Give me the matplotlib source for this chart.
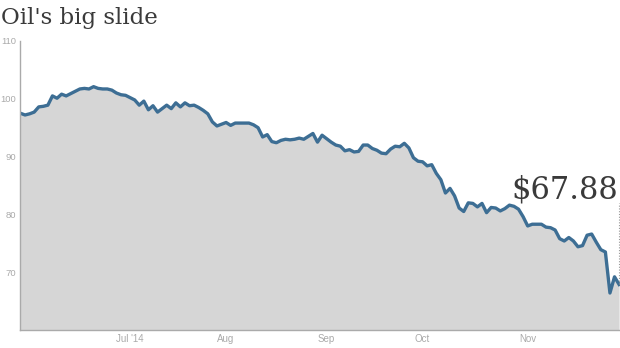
import numpy as np
import matplotlib.pyplot as plt

# daily closing price, one value per trading day (late May - early Dec 2014)
prices = [
    97.5, 97.2, 97.4, 97.7, 98.6, 98.7, 98.9, 100.5, 100.1, 100.8,
    100.5, 100.9, 101.3, 101.7, 101.8, 101.7, 102.1, 101.8, 101.7, 101.7,
    101.5, 101.0, 100.7, 100.6, 100.2, 99.8, 98.9, 99.6, 98.1, 98.8,
    97.7, 98.3, 98.9, 98.3, 99.3, 98.6, 99.3, 98.8, 98.9, 98.5,
    98.0, 97.4, 96.0, 95.3, 95.6, 95.9, 95.4, 95.8, 95.8, 95.8,
    95.8, 95.5, 95.0, 93.4, 93.8, 92.6, 92.4, 92.8, 93.0, 92.9,
    93.0, 93.2, 93.0, 93.5, 94.0, 92.5, 93.7, 93.1, 92.5, 92.0,
    91.8, 91.0, 91.2, 90.8, 90.9, 92.0, 92.0, 91.4, 91.1, 90.6,
    90.5, 91.3, 91.8, 91.7, 92.3, 91.5, 89.8, 89.2, 89.1, 88.4,
    88.6, 87.1, 86.0, 83.7, 84.5, 83.2, 81.1, 80.5, 82.0, 81.9,
    81.3, 81.9, 80.3, 81.2, 81.1, 80.6, 81.0, 81.6, 81.4, 80.9,
    79.6, 78.0, 78.3, 78.3, 78.3, 77.8, 77.7, 77.3, 75.8, 75.4,
    76.0, 75.4, 74.4, 74.6, 76.4, 76.6, 75.2, 73.9, 73.5, 66.4,
    69.2, 67.88,
]
month_labels = ["Jul '14", "Aug", "Sep", "Oct", "Nov"]
month_index = [24, 45, 67, 88, 111]  # trading-day index of each month label
y_ticks = [70, 80, 90, 100, 110]

LINE = "#3d6e94"
FILL = "#d6d6d6"
GRAY = "#aaaaaa"
TEXT = "#3a3a3a"
sans = ["Liberation Sans", "DejaVu Sans"]

x = np.arange(len(prices))

fig = plt.figure(figsize=(6.2, 3.48), dpi=100)
ax = fig.add_axes([20 / 620, 18 / 348, 600 / 620, 289 / 348])

ax.fill_between(x, prices, 60, color=FILL, lw=0)
ax.plot(x, prices, color=LINE, lw=2.4, solid_joinstyle="round")

# dotted pointer from the label down to the last price
ax.vlines(x[-1], prices[-1], 82.0, colors="#999999", linestyles=(0, (1, 1.5)), lw=0.8)
ax.text(x[-1] - 0.2, 82.8, "$%.2f" % prices[-1], ha="right", va="baseline",
        fontsize=22, family="DejaVu Serif", color=TEXT)

ax.set_xlim(-0.1, len(prices) - 0.8)
ax.set_ylim(60, 110)

for side in ["top", "right"]:
    ax.spines[side].set_visible(False)
for side in ["left", "bottom"]:
    ax.spines[side].set_color(GRAY)
    ax.spines[side].set_linewidth(1)

ax.set_yticks(y_ticks)
ax.set_yticklabels([str(v) for v in y_ticks], family=sans, fontsize=6.8, color=GRAY)
ax.set_yticks([110], minor=True)
ax.tick_params(axis="y", which="major", length=0, pad=3)
ax.tick_params(axis="y", which="minor", length=4, direction="inout", color=GRAY)

ax.set_xticks(month_index)
ax.set_xticklabels(month_labels, family=sans, fontsize=7, color=GRAY)
ax.tick_params(axis="x", length=0, pad=3)

fig.text(0.002, 1 - 24 / 348, "Oil's big slide", ha="left", va="baseline",
         fontsize=16.5, family="DejaVu Serif", color=TEXT)

fig.savefig("out.png", dpi=100)
